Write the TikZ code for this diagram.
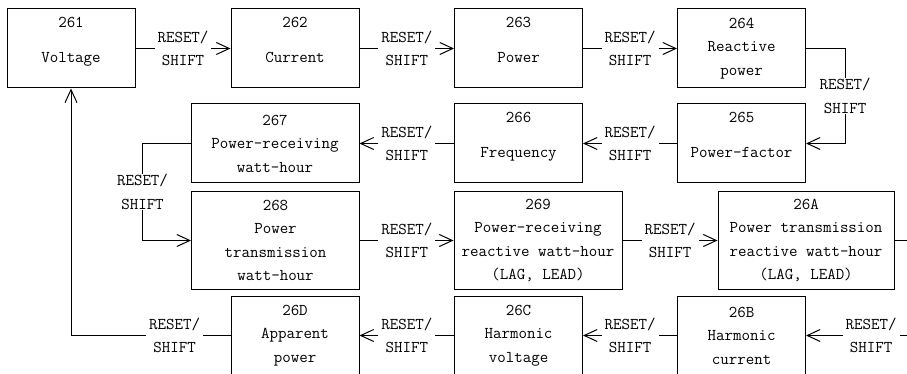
\documentclass[tikz,border=0pt]{standalone}
\usepackage{fontspec}
\usetikzlibrary{arrows.meta}
\newcommand{\twoline}[2]{#1\\[12pt]#2\\[-6pt]\mbox{}}

\begin{document}
\begin{tikzpicture}[x=1pt, y=-1pt,
  font=\ttfamily\fontsize{16.5}{23.5}\selectfont,
  line width=1pt,
  blk/.style={rectangle, draw, minimum width=128pt, minimum height=79pt,
              align=center, inner sep=0pt},
  wide/.style={minimum width=168pt},
  tall/.style={minimum height=97pt},
  lbl/.style={fill=white, align=center, inner xsep=3pt, inner ysep=0pt},
  arr/.style={-{Straight Barb[length=13pt, width=12pt]}}
]
  \useasboundingbox (0,0) rectangle (907,374);
  \clip (0,0) rectangle (907,374);
  % first row
  \node[blk] (v261) at (71,48.5) {\twoline{261}{Voltage}};
  \node[blk] (v262) at (295,48.5) {\twoline{262}{Current}};
  \node[blk] (v263) at (518.5,48.5) {\twoline{263}{Power}};
  \node[blk] (v264) at (741.5,48.5) {264\\Reactive\\power};
  % second row
  \node[blk,wide] (v267) at (275,143.5) {267\\Power-receiving\\watt-hour};
  \node[blk] (v266) at (518.5,143.5) {\twoline{266}{Frequency}};
  \node[blk] (v265) at (741.5,143.5) {\twoline{265}{Power-factor}};
  % third row
  \node[blk,wide,tall] (v268) at (275.5,240.5) {268\\Power\\transmission\\watt-hour};
  \node[blk,wide,tall] (v269) at (538,240.5) {269\\Power-receiving\\reactive watt-hour\\(LAG, LEAD)};
  \node[blk,tall,minimum width=176pt] (v26A) at (806,240.5) {26A\\Power transmission\\reactive watt-hour\\(LAG, LEAD)};
  % fourth row
  \node[blk] (v26D) at (295,335.5) {26D\\Apparent\\power};
  \node[blk] (v26C) at (518.5,335.5) {26C\\Harmonic\\voltage};
  \node[blk] (v26B) at (741.5,335.5) {26B\\Harmonic\\current};

  \draw[arr] (v261) -- node[lbl]{RESET/\\SHIFT} (v262);
  \draw[arr] (v262) -- node[lbl]{RESET/\\SHIFT} (v263);
  \draw[arr] (v263) -- node[lbl]{RESET/\\SHIFT} (v264);
  \draw[arr] (v264.east) -- ++(39,0) |- node[lbl,pos=0.25]{RESET/\\SHIFT} (v265.east);
  \draw[arr] (v265) -- node[lbl]{RESET/\\SHIFT} (v266);
  \draw[arr] (v266) -- node[lbl]{RESET/\\SHIFT} (v267);
  \draw[arr] (v267.west) -- ++(-48,0) |- node[lbl,pos=0.25]{RESET/\\SHIFT} (v268.west);
  \draw[arr] (v268) -- node[lbl]{RESET/\\SHIFT} (v269);
  \draw[arr] (v269) -- node[lbl]{RESET/\\SHIFT} (v26A);
  \draw[arr] (v26A.east) -- ++(20,0) |- node[lbl,pos=0.7]{RESET/\\SHIFT} (v26B.east);
  \draw[arr] (v26B) -- node[lbl]{RESET/\\SHIFT} (v26C);
  \draw[arr] (v26C) -- node[lbl]{RESET/\\SHIFT} (v26D);
  \draw[arr] (v26D.west) -| node[lbl,pos=0.175]{RESET/\\SHIFT} (v261.south);
\end{tikzpicture}
\end{document}
